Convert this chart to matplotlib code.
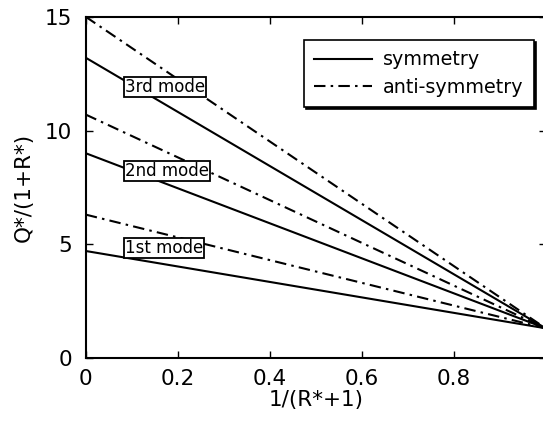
"""
Q*/(1+R*) against 1/(R*+1) for the first three modes,
symmetric and anti-symmetric cases.
"""
import matplotlib
matplotlib.use("Agg")
import matplotlib.pyplot as plt
import numpy as np

# end points of each mode line: value at 1/(R*+1) = 0 and at 1/(R*+1) = 1
x_ends = [0.0, 1.0]
sym_modes = ["1st mode", "2nd mode", "3rd mode"]
sym_start = [4.7, 9.0, 13.2]
anti_start = [6.3, 10.7, 15.0]
end_value = 1.3

# mode label anchors (x, y)
label_x = [0.085, 0.085, 0.085]
label_y = [4.84, 8.2, 11.9]

xticks = [0, 0.2, 0.4, 0.6, 0.8]
xticklabels = ["0", "0.2", "0.4", "0.6", "0.8"]
yticks = [0, 5, 10, 15]

plt.rcParams["font.family"] = "DejaVu Sans"

fig = plt.figure(figsize=(5.43, 4.21), dpi=100)
ax = fig.add_axes([0.158, 0.150, 0.847, 0.810])

dashdot = (0, (5.5, 2.5, 1.2, 2.5))
for i in range(3):
    ax.plot(x_ends, [sym_start[i], end_value], color="k", lw=1.5,
            label="symmetry" if i == 0 else None, zorder=2)
    ax.plot(x_ends, [anti_start[i], end_value], color="k", lw=1.5,
            linestyle=dashdot,
            label="anti-symmetry" if i == 0 else None, zorder=2)

for name, lx, ly in zip(sym_modes, label_x, label_y):
    ax.text(lx, ly, name, fontsize=12, ha="left", va="center", zorder=4,
            bbox=dict(boxstyle="square,pad=0.06", fc="white", ec="k", lw=1.3))

ax.set_xlim(0, 1)
ax.set_ylim(0, 15)
ax.set_xticks(xticks)
ax.set_xticklabels(xticklabels)
ax.set_yticks(yticks)
ax.tick_params(direction="in", length=5, width=1, labelsize=15.5,
               top=True, right=True)
ax.tick_params(axis="x", pad=8)
ax.tick_params(axis="y", pad=10)
for s in ax.spines.values():
    s.set_linewidth(1.5)

ax.set_xlabel("1/(R*+1)", fontsize=15.5, labelpad=1)
ax.set_ylabel("Q*/(1+R*)", fontsize=15.5, labelpad=8)

leg = ax.legend(loc="upper right", bbox_to_anchor=(0.975, 0.933),
                borderaxespad=0, fontsize=13.8, frameon=True, fancybox=False,
                shadow={"color": "k", "alpha": 1.0, "ox": 1.5, "oy": -1.5},
                handlelength=3.0, handletextpad=0.6, borderpad=0.55,
                labelspacing=0.45, framealpha=1)
leg.get_frame().set_edgecolor("k")
leg.get_frame().set_linewidth(1.2)

fig.savefig("out.png", dpi=100)
